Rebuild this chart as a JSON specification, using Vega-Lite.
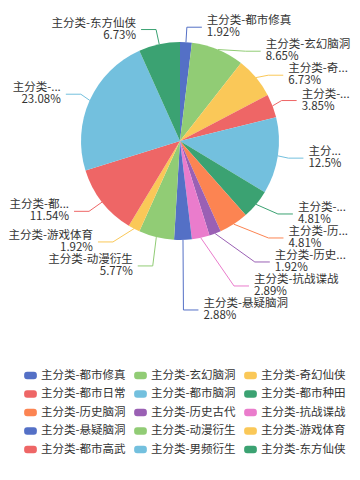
{
  "$schema": "https://vega.github.io/schema/vega-lite/v6.json",
  "width": 360,
  "height": 282,
  "autosize": {"type": "none"},
  "padding": {"left": 0, "top": 0, "right": 0, "bottom": 198},
  "background": "white",
  "config": {"view": {"stroke": null}},
  "data": {
    "values": [
      {"i": 0, "name": "主分类-都市修真", "label": "主分类-都市修真", "pct": 1.92},
      {"i": 1, "name": "主分类-玄幻脑洞", "label": "主分类-玄幻脑洞", "pct": 8.65},
      {"i": 2, "name": "主分类-奇幻仙侠", "label": "主分类-奇...", "pct": 6.73},
      {"i": 3, "name": "主分类-都市日常", "label": "主分类-...", "pct": 3.85},
      {"i": 4, "name": "主分类-都市脑洞", "label": "主分...", "pct": 12.5},
      {"i": 5, "name": "主分类-都市种田", "label": "主分类-...", "pct": 4.81},
      {"i": 6, "name": "主分类-历史脑洞", "label": "主分类-历...", "pct": 4.81},
      {"i": 7, "name": "主分类-历史古代", "label": "主分类-历史...", "pct": 1.92},
      {"i": 8, "name": "主分类-抗战谍战", "label": "主分类-抗战谍战", "pct": 2.89},
      {"i": 9, "name": "主分类-悬疑脑洞", "label": "主分类-悬疑脑洞", "pct": 2.88},
      {"i": 10, "name": "主分类-动漫衍生", "label": "主分类-动漫衍生", "pct": 5.77},
      {"i": 11, "name": "主分类-游戏体育", "label": "主分类-游戏体育", "pct": 1.92},
      {"i": 12, "name": "主分类-都市高武", "label": "主分类-都...", "pct": 11.54},
      {"i": 13, "name": "主分类-男频衍生", "label": "主分类-...", "pct": 23.08},
      {"i": 14, "name": "主分类-东方仙侠", "label": "主分类-东方仙侠", "pct": 6.73}
    ]
  },
  "transform": [
    {"window": [{"op": "sum", "field": "pct", "as": "cum"}], "sort": [{"field": "i"}], "frame": [null, 0]},
    {"calculate": "(datum.cum - datum.pct / 2) / 100 * 2 * PI", "as": "a"},
    {"calculate": "sin(datum.a) >= 0 ? 1 : -1", "as": "dir"},
    {"calculate": "141 - 114 * cos(datum.a)", "as": "y2n"},
    {"calculate": "114 * sin(datum.a) + 5 * datum.dir", "as": "dx0"},
    {"window": [{"op": "row_number", "as": "k"}], "groupby": ["dir"], "sort": [{"field": "y2n"}]},
    {"calculate": "datum.y2n - 24 * datum.k", "as": "z"},
    {"window": [{"op": "max", "field": "z", "as": "zm"}], "groupby": ["dir"], "sort": [{"field": "y2n"}], "frame": [null, 0]},
    {"calculate": "datum.zm + 24 * datum.k", "as": "ly"},
    {"calculate": "abs(datum.ly - 141)", "as": "dy"},
    {"calculate": "datum.ly > 141 ? 'b' : 't'", "as": "semi"},
    {"joinaggregate": [{"op": "argmax", "field": "dy", "as": "ext"}], "groupby": ["dir", "semi"]},
    {"calculate": "datum.ext.dy / sqrt(1 - pow(datum.ext.dx0 / 114, 2))", "as": "rB"},
    {"calculate": "114 * sqrt(max(0, 1 - pow(datum.dy / datum.rB, 2)))", "as": "ex"},
    {"calculate": "180 + datum.dir * (datum.ex + 15)", "as": "tx"},
    {"calculate": "180 + datum.dir * (datum.ex - 5)", "as": "bx"},
    {"calculate": "180 + datum.dir * (datum.ex + 10)", "as": "endx"},
    {"calculate": "180 + 99 * sin(datum.a)", "as": "px"},
    {"calculate": "141 - 99 * cos(datum.a)", "as": "py"},
    {"calculate": "datum.label + '\\n' + datum.pct + '%'", "as": "t"}
  ],
  "layer": [
    {
      "mark": {"type": "arc", "outerRadius": 99},
      "encoding": {
        "theta": {"field": "pct", "type": "quantitative", "stack": true},
        "order": {"field": "i", "type": "quantitative"},
        "color": {
          "field": "name",
          "type": "nominal",
          "scale": {
            "domain": ["主分类-都市修真", "主分类-玄幻脑洞", "主分类-奇幻仙侠", "主分类-都市日常", "主分类-都市脑洞", "主分类-都市种田", "主分类-历史脑洞", "主分类-历史古代", "主分类-抗战谍战", "主分类-悬疑脑洞", "主分类-动漫衍生", "主分类-游戏体育", "主分类-都市高武", "主分类-男频衍生", "主分类-东方仙侠"],
            "range": ["#5470c6", "#91cc75", "#fac858", "#ee6666", "#73c0de", "#3ba272", "#fc8452", "#9a60b4", "#ea7ccc", "#5470c6", "#91cc75", "#fac858", "#ee6666", "#73c0de", "#3ba272"]
          },
          "legend": {
            "orient": "none",
            "legendX": 24,
            "legendY": 369,
            "direction": "horizontal",
            "columns": 3,
            "title": null,
            "symbolType": "M-0.53,-0.6 L0.53,-0.6 Q1,-0.6 1,-0.13 L1,0.13 Q1,0.6 0.53,0.6 L-0.53,0.6 Q-1,0.6 -1,0.13 L-1,-0.13 Q-1,-0.6 -0.53,-0.6 Z",
            "symbolSize": 161,
            "symbolStrokeWidth": 0,
            "symbolOpacity": 1,
            "labelFontSize": 11.5,
            "labelFont": "Noto Sans CJK SC",
            "labelColor": "#333",
            "labelOffset": 4,
            "labelLimit": 200,
            "columnPadding": 8,
            "rowPadding": 6.5
          }
        }
      }
    },
    {
      "mark": {"type": "rule", "strokeWidth": 1},
      "encoding": {
        "x": {"field": "px", "type": "quantitative", "scale": null, "axis": null},
        "y": {"field": "py", "type": "quantitative", "scale": null, "axis": null},
        "x2": {"field": "bx"},
        "y2": {"field": "ly"},
        "stroke": {
          "field": "name",
          "type": "nominal",
          "legend": null,
          "scale": {
            "domain": ["主分类-都市修真", "主分类-玄幻脑洞", "主分类-奇幻仙侠", "主分类-都市日常", "主分类-都市脑洞", "主分类-都市种田", "主分类-历史脑洞", "主分类-历史古代", "主分类-抗战谍战", "主分类-悬疑脑洞", "主分类-动漫衍生", "主分类-游戏体育", "主分类-都市高武", "主分类-男频衍生", "主分类-东方仙侠"],
            "range": ["#5470c6", "#91cc75", "#fac858", "#ee6666", "#73c0de", "#3ba272", "#fc8452", "#9a60b4", "#ea7ccc", "#5470c6", "#91cc75", "#fac858", "#ee6666", "#73c0de", "#3ba272"]
          }
        }
      }
    },
    {
      "mark": {"type": "rule", "strokeWidth": 1},
      "encoding": {
        "x": {"field": "bx", "type": "quantitative", "scale": null, "axis": null},
        "y": {"field": "ly", "type": "quantitative", "scale": null, "axis": null},
        "x2": {"field": "endx"},
        "y2": {"field": "ly"},
        "stroke": {"field": "name", "type": "nominal", "legend": null}
      }
    },
    {
      "transform": [{"filter": "datum.dir > 0"}],
      "mark": {"type": "text", "align": "left", "baseline": "middle", "dy": -6, "fontSize": 11.5, "lineHeight": 12, "font": "Noto Sans CJK SC", "lineBreak": "\n", "fill": "#333"},
      "encoding": {
        "x": {"field": "tx", "type": "quantitative", "scale": null, "axis": null},
        "y": {"field": "ly", "type": "quantitative", "scale": null, "axis": null},
        "text": {"field": "t", "type": "nominal"}
      }
    },
    {
      "transform": [{"filter": "datum.dir < 0"}],
      "mark": {"type": "text", "align": "right", "baseline": "middle", "dy": -6, "fontSize": 11.5, "lineHeight": 12, "font": "Noto Sans CJK SC", "lineBreak": "\n", "fill": "#333"},
      "encoding": {
        "x": {"field": "tx", "type": "quantitative", "scale": null, "axis": null},
        "y": {"field": "ly", "type": "quantitative", "scale": null, "axis": null},
        "text": {"field": "t", "type": "nominal"}
      }
    }
  ]
}
